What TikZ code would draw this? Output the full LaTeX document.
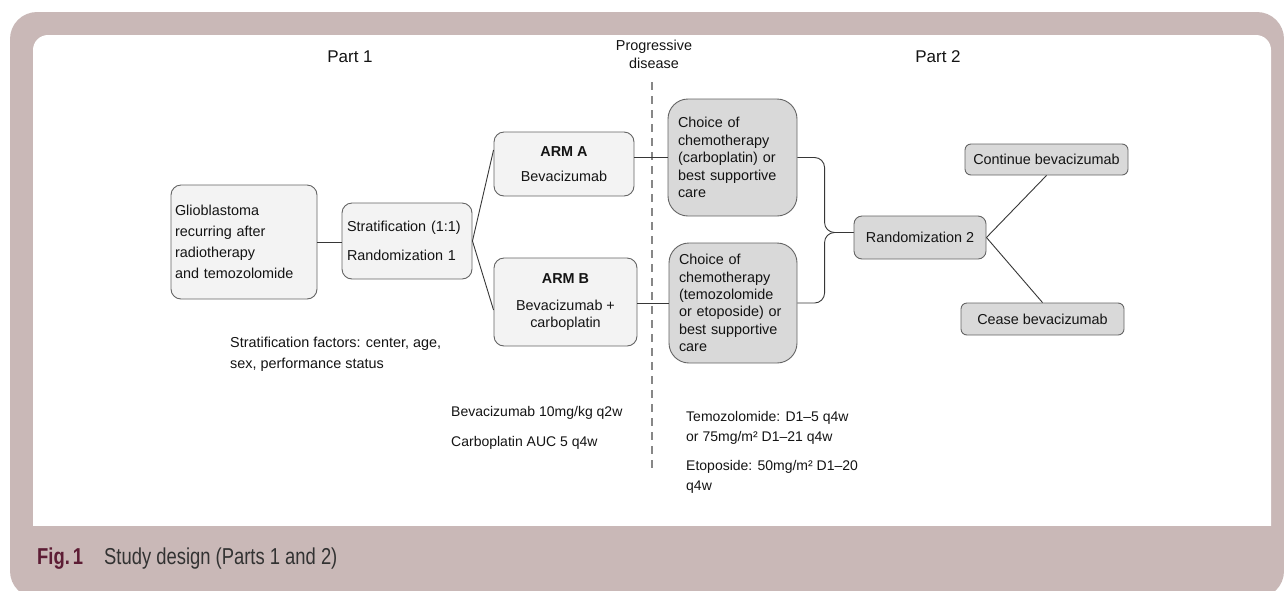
\documentclass[tikz,border=0pt]{standalone}
\usepackage{fontspec}
\setmainfont{Liberation Sans}
\newfontfamily\capfont[FakeStretch=0.8]{Liberation Sans}
\usetikzlibrary{calc}
\definecolor{framepink}{RGB}{201,184,183}
\definecolor{boxline}{RGB}{100,100,100}
\definecolor{lightfill}{RGB}{243,243,243}
\definecolor{darkfill}{RGB}{217,217,217}
\definecolor{linkcol}{RGB}{55,55,55}
\definecolor{dashcol}{RGB}{135,135,135}
\definecolor{figred}{RGB}{92,28,52}
\definecolor{captext}{RGB}{50,50,50}
\definecolor{maintext}{RGB}{20,20,20}
\begin{document}
\begin{tikzpicture}[x=1pt,y=-1pt,
  txt/.style={font=\fontsize{14.4pt}{17.4pt}\selectfont, text=maintext},
  lightbox/.style={txt, draw=boxline, line width=0.9pt, fill=lightfill, rounded corners=10pt, inner sep=0pt},
  darkbox/.style={txt, draw=boxline, line width=0.9pt, fill=darkfill, rounded corners=8pt, inner sep=0pt},
  conn/.style={draw=linkcol, line width=0.9pt},
  note/.style={txt, inner sep=0pt, anchor=north west, align=left},
  pdline/.style={draw=dashcol, line width=2pt, dash pattern=on 8pt off 6pt},
]
\useasboundingbox (0,0) rectangle (1284,590);
% frame
\fill[framepink, rounded corners=27pt] (10,12) rectangle (1284,598);
\fill[white, rounded corners=15pt] (33,35) rectangle (1271,545);
\fill[framepink] (30,526) rectangle (1275,560);

% headings
\node[txt, anchor=base, inner sep=0pt, font=\fontsize{17pt}{20pt}\selectfont] (part1) at (350,62) {Part 1};
\node[txt, anchor=base, inner sep=0pt, font=\fontsize{17pt}{20pt}\selectfont] (part2) at (938,62) {Part 2};
\node[txt, align=center, inner sep=0pt, font=\fontsize{14.4pt}{18pt}\selectfont] (pd) at (654,54) {Progressive\\disease};

% dashed separator
\coordinate (pdtop) at (652,82);
\coordinate (pdbot) at (652,473);
\draw[pdline] (pdtop) -- (pdbot);

% boxes
\node[lightbox, minimum width=146pt, minimum height=114pt, text width=138pt, align=left, font=\fontsize{14.4pt}{21pt}\selectfont] (glio) at (244,242) {Glioblastoma\\recurring after\\radiotherapy\\and temozolomide};
\node[lightbox, minimum width=130pt, minimum height=76pt, text width=120pt, align=left] (strat) at (407,241) {Stratification (1:1)\\[11.6pt]Randomization 1};
\node[lightbox, minimum width=140pt, minimum height=64pt, align=center] (armA) at (564,164) {\textbf{ARM A}\\[7.6pt]Bevacizumab};
\node[lightbox, minimum width=143pt, minimum height=88pt, align=center] (armB) at (565.5,302) {\textbf{ARM B}\\[9.6pt]Bevacizumab +\\carboplatin};
\node[darkbox, rounded corners=20pt, minimum width=129pt, minimum height=117pt, text width=109pt, align=left] (c1) at (732.5,157.5) {Choice of\\chemotherapy\\(carboplatin) or\\best supportive\\care};
\node[darkbox, rounded corners=20pt, minimum width=128pt, minimum height=120pt, text width=108pt, align=left] (c2) at (733,303) {Choice of\\chemotherapy\\(temozolomide\\or etoposide) or\\best supportive\\care};
\node[darkbox, minimum width=132pt, minimum height=43pt] (r2) at (920,237.5) {Randomization 2};
\node[darkbox, rounded corners=6pt, minimum width=163pt, minimum height=31pt] (cont) at (1046.5,159.5) {Continue bevacizumab};
\node[darkbox, rounded corners=6pt, minimum width=163pt, minimum height=32pt] (cease) at (1042.5,319) {Cease bevacizumab};

% notes
\node[note, font=\fontsize{14.4pt}{21pt}\selectfont] (sf) at (230,336.5) {Stratification factors: center, age,\\sex, performance status};
\node[note, font=\fontsize{14pt}{17.4pt}\selectfont] (dose1) at (451,406.5) {Bevacizumab 10mg/kg q2w\\[12.6pt]Carboplatin AUC 5 q4w};
\node[note, font=\fontsize{14pt}{20pt}\selectfont] (dose2) at (686,411.5) {Temozolomide: D1–5 q4w\\or 75mg/m² D1–21 q4w\\[9pt]Etoposide: 50mg/m² D1–20\\q4w};

% connectors
\draw[conn] (glio.east) -- (glio.east -| strat.west);
\draw[conn] (strat.east) -- ($(armA.west)+(0,-14)$);
\draw[conn] (strat.east) -- ($(armB.west)+(0,8)$);
\draw[conn] (c1.west -| armA.east) -- (c1.west);
\draw[conn] (c2.west -| armB.east) -- (c2.west);
\coordinate (j) at ($(r2.west)+(0,-5)$);
\coordinate (bx) at ($(j)+(-29,0)$);
\draw[conn, rounded corners=10pt] (c1.east) -| (bx) -- (j);
\draw[conn, rounded corners=10pt] (c2.east) -| (bx) -- (j);
\draw[conn] (r2.east) -- (cont.south);
\draw[conn] (r2.east) -- (cease.north);

% caption
\node[anchor=base west, inner sep=0pt, font=\capfont\bfseries\fontsize{23pt}{26pt}\selectfont, text=figred] (fig) at (37,564) {Fig.\hspace{3pt}1};
\node[anchor=base west, inner sep=0pt, font=\capfont\fontsize{23pt}{26pt}\selectfont, text=captext] (cap) at (104,564) {Study design (Parts 1 and 2)};
\end{tikzpicture}
\end{document}
